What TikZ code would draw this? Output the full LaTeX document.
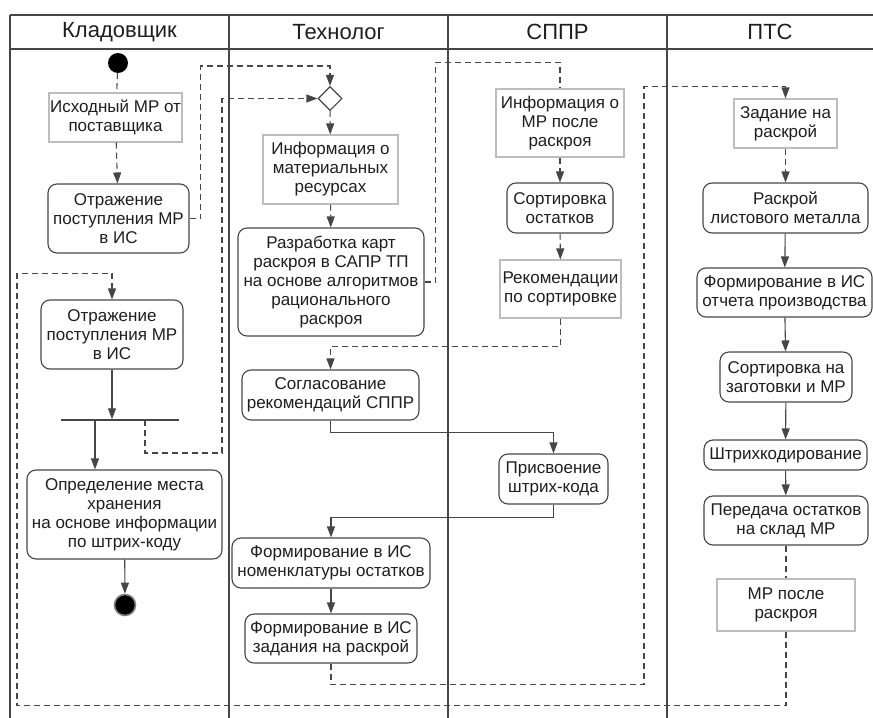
\documentclass[tikz,border=0pt]{standalone}
\usepackage{fontspec}
\setmainfont{Liberation Sans}
\usepackage{tikz}
\usetikzlibrary{arrows.meta,shapes.geometric}
\definecolor{lineg}{HTML}{464646}
\definecolor{objg}{HTML}{BDBDBD}
\definecolor{txtg}{HTML}{1E1E1E}

\begin{document}
\begin{tikzpicture}[
  act/.style={draw=lineg,line width=1.1bp,rounded corners=9bp,align=center,inner sep=1bp,text=txtg,font=\fontsize{17bp}{19bp}\selectfont},
  obj/.style={draw=objg,line width=1.1bp,align=center,inner sep=1bp,text=txtg,font=\fontsize{17bp}{19bp}\selectfont},
  lanehead/.style={text=txtg,font=\fontsize{22bp}{24bp}\selectfont},
  flow/.style={-{Triangle[length=11bp,width=8bp,fill=lineg]},line width=1.1bp,draw=lineg},
  dflow/.style={flow,dash pattern=on 6bp off 4bp},
  dline/.style={line width=1.1bp,draw=lineg,dash pattern=on 6bp off 4bp}
]
\useasboundingbox (0,0) rectangle (873bp,-718bp);

% lanes
\draw [lineg,line width=1.2bp] (10bp,-15bp) -- (873bp,-15bp);
\draw [lineg,line width=1.2bp] (10bp,-49bp) -- (873bp,-49bp);
\foreach \x in {10,229,448,667}
  \draw [lineg,line width=1.2bp] (\x bp,-15bp) -- (\x bp,-718bp);
\node (H1) at (119.5bp,-32bp)[lanehead] {Кладовщик};
\node (H2) at (338.5bp,-32bp)[lanehead] {Технолог};
\node (H3) at (557.5bp,-32bp)[lanehead] {СППР};
\node (H4) at (770bp,-32bp)[lanehead] {ПТС};

% Кладовщик
\node (S0) at (118bp,-63bp)[circle,fill=black,minimum size=20bp,inner sep=0] {};
\node (K1) at (115.5bp,-117.5bp)[obj,minimum width=133bp,minimum height=49bp] {Исходный МР от\\поставщика};
\node (K2) at (118.5bp,-218.5bp)[act,minimum width=141bp,minimum height=69bp] {Отражение\\поступления МР\\в ИС};
\node (K3) at (112bp,-334.5bp)[act,minimum width=142bp,minimum height=69bp] {Отражение\\поступления МР\\в ИС};
\node (F) at (120bp,-420bp)[fill=lineg,minimum width=118bp,minimum height=1.1bp,inner sep=0] {};
\node (K4) at (124.5bp,-514.5bp)[act,minimum width=195bp,minimum height=89bp] {Определение места\\хранения\\на основе информации\\по штрих-коду};
\node (E0) at (125bp,-605bp)[circle,fill=black,draw=gray,line width=1.6bp,minimum size=21bp,inner sep=0] {};

% Технолог
\node (D) at (330bp,-98.5bp)[diamond,draw=lineg,fill=white,line width=1.1bp,minimum width=24bp,minimum height=24bp,inner sep=0] {};
\node (T1) at (330.5bp,-169.5bp)[obj,minimum width=135bp,minimum height=69bp] {Информация о\\материальных\\ресурсах};
\node (T2) at (331bp,-282bp)[act,minimum width=186bp,minimum height=108bp] {Разработка карт\\раскроя в САПР ТП\\на основе алгоритмов\\рационального\\раскроя};
\node (T3) at (330.5bp,-395bp)[act,minimum width=177bp,minimum height=50bp] {Согласование\\рекомендаций СППР};
\node (T4) at (331bp,-563bp)[act,minimum width=198bp,minimum height=50bp] {Формирование в ИС\\номенклатуры остатков};
\node (T5) at (331bp,-638.5bp)[act,minimum width=172bp,minimum height=49bp] {Формирование в ИС\\задания на раскрой};

% СППР
\node (C1) at (560bp,-123bp)[obj,minimum width=128bp,minimum height=68bp] {Информация о\\МР после\\раскроя};
\node (C2) at (560bp,-208bp)[act,minimum width=106bp,minimum height=50bp] {Сортировка\\остатков};
\node (C3) at (560.5bp,-289bp)[obj,minimum width=121bp,minimum height=58bp] {Рекомендации\\по сортировке};
\node (C4) at (553.5bp,-479bp)[act,minimum width=109bp,minimum height=50bp] {Присвоение\\штрих-кода};

% ПТС
\node (P1) at (785.5bp,-123.5bp)[obj,minimum width=103bp,minimum height=49bp] {Задание на\\раскрой};
\node (P2) at (785.5bp,-208bp)[act,minimum width=165bp,minimum height=50bp] {Раскрой\\листового металла};
\node (P3) at (784.5bp,-292.5bp)[act,minimum width=175bp,minimum height=49bp] {Формирование в ИС\\отчета производства};
\node (P4) at (786bp,-377bp)[act,minimum width=132bp,minimum height=50bp] {Сортировка на\\заготовки и МР};
\node (P5) at (785.5bp,-455bp)[act,minimum width=163bp,minimum height=30bp] {Штрихкодирование};
\node (P6) at (786bp,-520.5bp)[act,minimum width=164bp,minimum height=49bp] {Передача остатков\\на склад МР};
\node (P7) at (786bp,-605bp)[obj,minimum width=138bp,minimum height=52bp] {МР после\\раскроя};

% flows
\draw [dline] (S0) -- (K1);
\draw [dflow] (K1) -- (K2);
\draw [dflow] (K2.east) -- ++(11bp,0) |- ([yshift=20bp]D.north) -- (D.north);
\draw [dflow] ([xshift=25bp]F.center) -- ++(0,-33bp) -- ++(77bp,0) |- (D.west);
\draw [dflow] (D) -- (T1);
\draw [dflow] (T1) -- (T2);
\draw [dline] (T2.east) -- ++(11bp,0) |- ([yshift=26bp]C1.north) -- (C1.north);
\draw [dflow] (C1) -- (C2);
\draw [dflow] (C2) -- (C3);
\draw [dflow] (C3.south) |- ([yshift=23bp]T3.north) -- (T3.north);
\draw [flow] (T3.south) -- ++(0,-12bp) -| (C4.north);
\draw [flow] (C4.south) -- ++(0,-13bp) -| (T4.north);
\draw [flow] (T4) -- (T5);
\draw [dflow] (T5.south) -- ++(0,-21bp) -- ++(313bp,0) |- ([yshift=12bp]P1.north) -- (P1.north);
\draw [dflow] (P1) -- (P2);
\draw [flow] (P2) -- (P3);
\draw [flow] (P3) -- (P4);
\draw [flow] (P4) -- (P5);
\draw [flow] (P5) -- (P6);
\draw [dline] (P6) -- (P7);
\draw [dflow] (P7.south) -- ++(0,-74bp) -| ([xshift=-95bp,yshift=26bp]K3.north) -| (K3.north);
\draw [flow] (K3.south) -- (K3.south |- F.north);
\draw [flow] ([xshift=-25bp]F.center) -- ([xshift=-25bp]F.center |- K4.north);
\draw [flow] (K4) -- (E0);
\end{tikzpicture}
\end{document}
